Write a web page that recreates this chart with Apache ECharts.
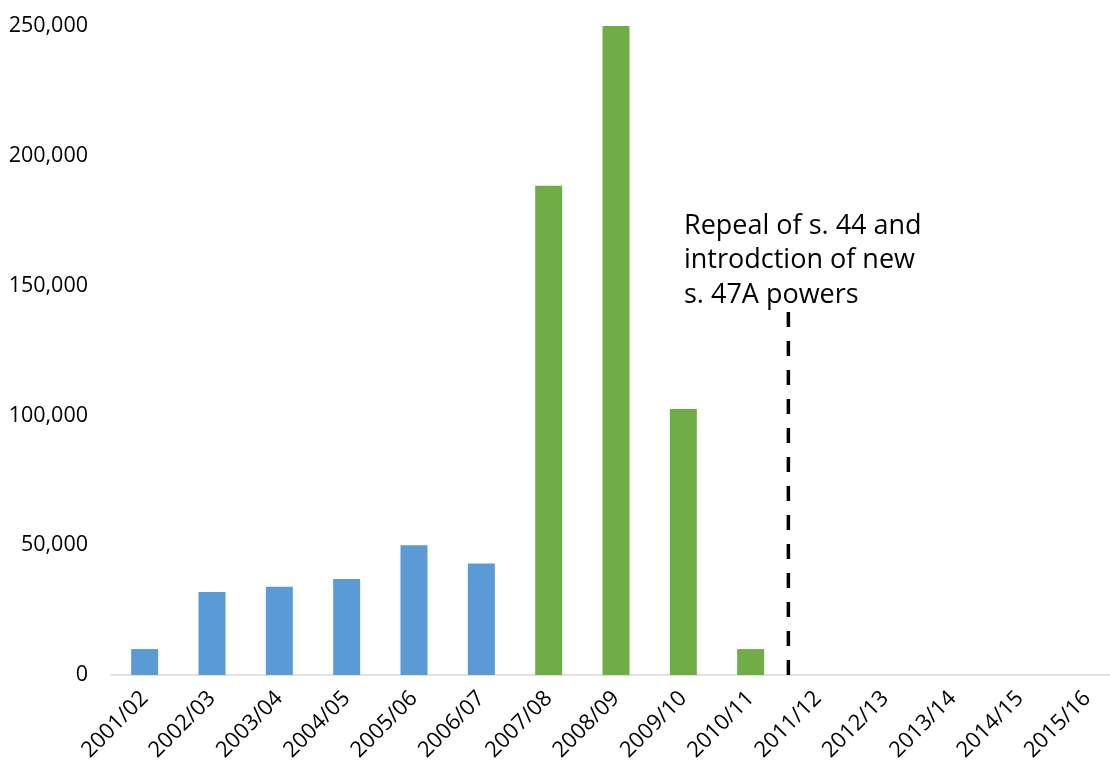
<!DOCTYPE html>
<html>
<head>
<meta charset="utf-8">
<script src="https://cdn.jsdelivr.net/npm/echarts@6/dist/echarts.min.js"></script>
<style>
  html, body { margin: 0; padding: 0; background: #fff; overflow: hidden; }
  #chart { width: 1125px; height: 764px; }
</style>
</head>
<body>
<div id="chart"></div>
<script>
// Financial years on the category axis
const years = ['2001/02', '2002/03', '2003/04', '2004/05', '2005/06', '2006/07', '2007/08',
  '2008/09', '2009/10', '2010/11', '2011/12', '2012/13', '2013/14', '2014/15', '2015/16'];

// Counts per year, split into the earlier and later periods
const earlyValues = [10000, 32000, 34000, 37000, 50000, 43000, null, null, null, null, null, null, null, null, null];
const lateValues = [null, null, null, null, null, null, 188500, 250000, 102500, 10000, 0, 0, 0, 0, 0];

// Y axis ticks
const yTicks = [0, 50000, 100000, 150000, 200000, 250000];

// Position (in category index units) and height of the repeal marker
const repealAt = 9.56;
const repealTop = 140700;
const repealNote = ['Repeal of s. 44 and', 'introdction of new', 's. 47A powers'];

const chart = echarts.init(document.getElementById('chart'));
const font = '"Open Sans", "Noto Sans", sans-serif';

chart.setOption({
  animation: false,
  textStyle: { fontFamily: font },
  grid: { left: 111, top: 26, width: 1010, bottom: 88.5, containLabel: false },
  xAxis: [
    {
      type: 'category',
      data: years,
      axisLine: { lineStyle: { color: '#D9D9D9', width: 1.5 } },
      axisTick: { show: false },
      axisLabel: { rotate: 45, fontSize: 22, color: '#000', fontFamily: font, margin: 20, interval: 0 }
    },
    {
      type: 'value',
      min: -0.5,
      max: 14.5,
      show: false
    }
  ],
  yAxis: {
    type: 'value',
    min: yTicks[0],
    max: yTicks[yTicks.length - 1],
    interval: yTicks[1] - yTicks[0],
    axisLine: { show: false },
    axisTick: { show: false },
    splitLine: { show: false },
    axisLabel: {
      fontSize: 21.5, color: '#000', fontFamily: font, margin: 23,
      formatter: v => v.toLocaleString('en-GB')
    }
  },
  series: [
    {
      type: 'bar',
      stack: 'count',
      data: earlyValues,
      barWidth: 27,
      itemStyle: { color: '#5B9BD5' }
    },
    {
      type: 'bar',
      stack: 'count',
      data: lateValues,
      barWidth: 27,
      itemStyle: { color: '#70AD47' }
    },
    {
      type: 'line',
      xAxisIndex: 1,
      data: [[repealAt, 0], [repealAt, repealTop]],
      symbol: 'none',
      lineStyle: { color: '#000', width: 3.5, type: [15, 14] },
      z: 5
    }
  ],
  graphic: [
    {
      type: 'text',
      left: 684,
      top: 209,
      style: {
        text: repealNote.join('\n'),
        font: '27px ' + font,
        lineHeight: 34.5,
        fill: '#000'
      }
    }
  ]
});
</script>
</body>
</html>
